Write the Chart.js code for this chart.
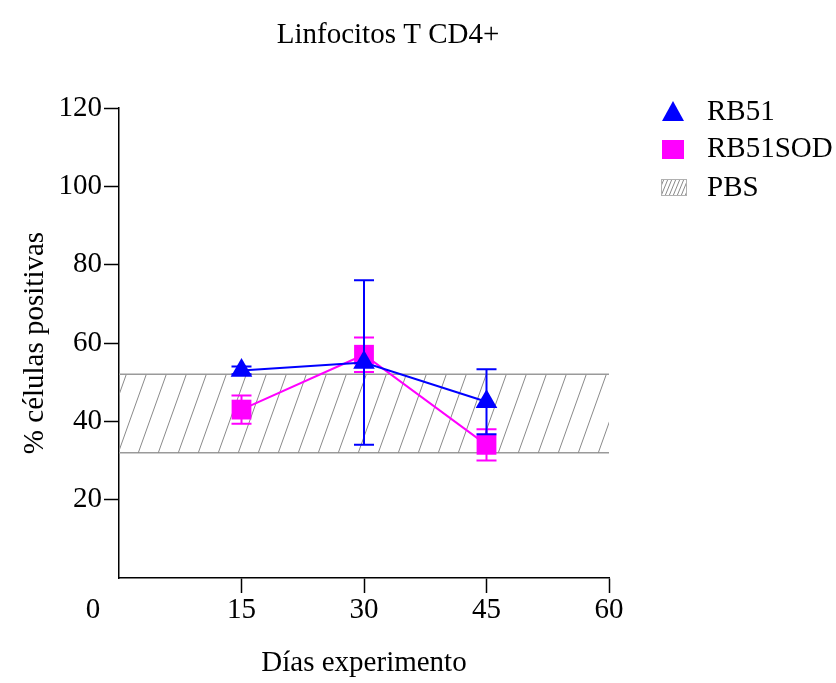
<!DOCTYPE html>
<html>
<head>
<meta charset="utf-8">
<script src="https://cdn.jsdelivr.net/npm/chart.js@4.4.1/dist/chart.umd.min.js"></script>
<style>
  html, body { margin: 0; padding: 0; background: #fff; }
  #wrap { width: 836px; height: 683px; }
</style>
</head>
<body>
<div id="wrap"><canvas id="chart" width="836" height="683"></canvas></div>
<script>
// datos
var titulo = 'Linfocitos T CD4+';
var dias = [15, 30, 45];
var rb51 = [53, 55, 45];
var rb51Sd = [1, 21, 8.3];
var rb51sod = [43, 57, 34];
var rb51sodSd = [3.6, 4.4, 4];
var pbsRango = [32, 52]; // banda PBS (min, max)
var xTicks = [0, 15, 30, 45, 60];
var yTicks = [0, 20, 40, 60, 80, 100, 120];

var fuente = 'Liberation Serif';
Chart.defaults.font.family = fuente;
Chart.defaults.font.size = 29;
Chart.defaults.color = '#000';

var ctx = document.getElementById('chart').getContext('2d');

// patron rayado para la banda PBS
function rayado() {
    var c = document.createElement('canvas');
    c.width = 20; c.height = 56;
    var g = c.getContext('2d');
    g.strokeStyle = '#8a8a8a';
    g.lineWidth = 1;
    g.beginPath();
    g.moveTo(-20, 56); g.lineTo(0, 0);
    g.moveTo(0, 56); g.lineTo(20, 0);
    g.moveTo(20, 56); g.lineTo(40, 0);
    g.stroke();
    return ctx.createPattern(c, 'repeat');
}

function puntos(ys) {
    return dias.map(function (d, i) { return {x: d, y: ys[i]}; });
}
function banda(v) {
    return [{x: xTicks[0], y: v}, {x: xTicks[xTicks.length - 1], y: v}];
}

// barras de error por dataset
var barras = {
    id: 'barras',
    afterDatasetDraw: function (chart, args) {
        var ds = chart.data.datasets[args.index];
        if (!ds.sd) return;
        var xs = chart.scales.x, ys = chart.scales.y, c = chart.ctx;
        c.save();
        c.strokeStyle = ds.borderColor;
        c.lineWidth = 2;
        ds.data.forEach(function (p, i) {
            var x = xs.getPixelForValue(p.x);
            var y1 = ys.getPixelForValue(p.y - ds.sd[i]);
            var y2 = ys.getPixelForValue(p.y + ds.sd[i]);
            c.beginPath();
            c.moveTo(x, y1); c.lineTo(x, y2);
            c.moveTo(x - 10, y1); c.lineTo(x + 10, y1);
            c.moveTo(x - 10, y2); c.lineTo(x + 10, y2);
            c.stroke();
        });
        c.restore();
    }
};

// titulo, leyenda y el "0" suelto
var extras = {
    id: 'extras',
    afterDraw: function (chart) {
        var c = chart.ctx, xs = chart.scales.x;
        c.save();
        c.fillStyle = '#000';
        c.font = '29px "' + fuente + '"';
        c.textBaseline = 'middle';
        c.textAlign = 'center';
        c.fillText(titulo, 388, 35);
        c.fillText('0', xs.left - 26, xs.top + 15 + 17);

        var ds = chart.data.datasets;
        c.textAlign = 'left';
        // RB51
        c.fillStyle = ds[0].borderColor;
        c.beginPath();
        c.moveTo(673, 101); c.lineTo(684, 121); c.lineTo(662, 121); c.closePath();
        c.fill();
        // RB51SOD
        c.fillStyle = ds[1].borderColor;
        c.fillRect(662, 140, 22, 19);
        // PBS
        c.save();
        c.beginPath();
        c.rect(661, 179, 26, 17);
        c.clip();
        c.strokeStyle = '#8a8a8a';
        c.lineWidth = 1;
        for (var k = -20; k < 40; k += 4) {
            c.moveTo(661 + k, 196); c.lineTo(661 + k + 7, 179);
        }
        c.stroke();
        c.restore();
        c.strokeStyle = '#b0b0b0';
        c.strokeRect(661.5, 179.5, 25, 16);

        c.fillStyle = '#000';
        c.fillText(ds[0].label, 707, 112);
        c.fillText(ds[1].label, 707, 149);
        c.fillText('PBS', 707, 188);
        c.restore();
    }
};

var ocultarCero = function (c) { return c.tick && c.tick.value === 0 ? 'rgba(0,0,0,0)' : '#000'; };

new Chart(ctx, {
    type: 'line',
    data: {
        datasets: [
            {
                label: 'RB51',
                data: puntos(rb51),
                sd: rb51Sd,
                borderColor: '#0000ff',
                backgroundColor: '#0000ff',
                borderWidth: 2,
                pointStyle: 'triangle',
                pointRadius: 12.5,
                pointBorderWidth: 0,
                fill: false
            },
            {
                label: 'RB51SOD',
                data: puntos(rb51sod),
                sd: rb51sodSd,
                borderColor: '#ff00ff',
                backgroundColor: '#ff00ff',
                borderWidth: 2,
                pointStyle: 'rect',
                pointRadius: 14,
                pointBorderWidth: 0,
                fill: false
            },
            {
                label: 'PBS',
                data: banda(pbsRango[1]),
                borderColor: '#9a9a9a',
                borderWidth: 1.5,
                pointRadius: 0,
                backgroundColor: rayado(),
                fill: '+1'
            },
            {
                label: 'PBS min',
                data: banda(pbsRango[0]),
                borderColor: '#9a9a9a',
                borderWidth: 1.5,
                pointRadius: 0,
                fill: false
            }
        ]
    },
    options: {
        responsive: false,
        animation: false,
        layout: { padding: { top: 108, right: 227, bottom: 0, left: 0 } },
        plugins: {
            legend: { display: false },
            title: { display: false },
            tooltip: { enabled: false }
        },
        scales: {
            x: {
                type: 'linear',
                min: xTicks[0],
                max: xTicks[xTicks.length - 1],
                afterBuildTicks: function (s) { s.ticks = xTicks.map(function (v) { return {value: v}; }); },
                afterFit: function (s) { s.height = 105; },
                border: { color: '#000', width: 1.5 },
                grid: { drawOnChartArea: false, drawTicks: true, tickLength: 15, color: ocultarCero, tickWidth: 1.5 },
                ticks: {
                    padding: 0,
                    maxRotation: 0,
                    callback: function (v) { return v === 0 ? '' : v; }
                },
                title: { display: true, text: 'Días experimento', padding: { top: 0, bottom: 2 } }
            },
            y: {
                min: yTicks[0],
                max: yTicks[yTicks.length - 1],
                afterBuildTicks: function (s) { s.ticks = yTicks.map(function (v) { return {value: v}; }); },
                afterFit: function (s) { s.width = 119; },
                border: { color: '#000', width: 1.5 },
                grid: { drawOnChartArea: false, drawTicks: true, tickLength: 15, color: ocultarCero, tickWidth: 1.5 },
                ticks: {
                    padding: 2,
                    callback: function (v) { return v === 0 ? '' : v; }
                },
                title: { display: true, text: '% células positivas', padding: { top: 18, bottom: 0 } }
            }
        }
    },
    plugins: [barras, extras]
});
</script>
</body>
</html>
